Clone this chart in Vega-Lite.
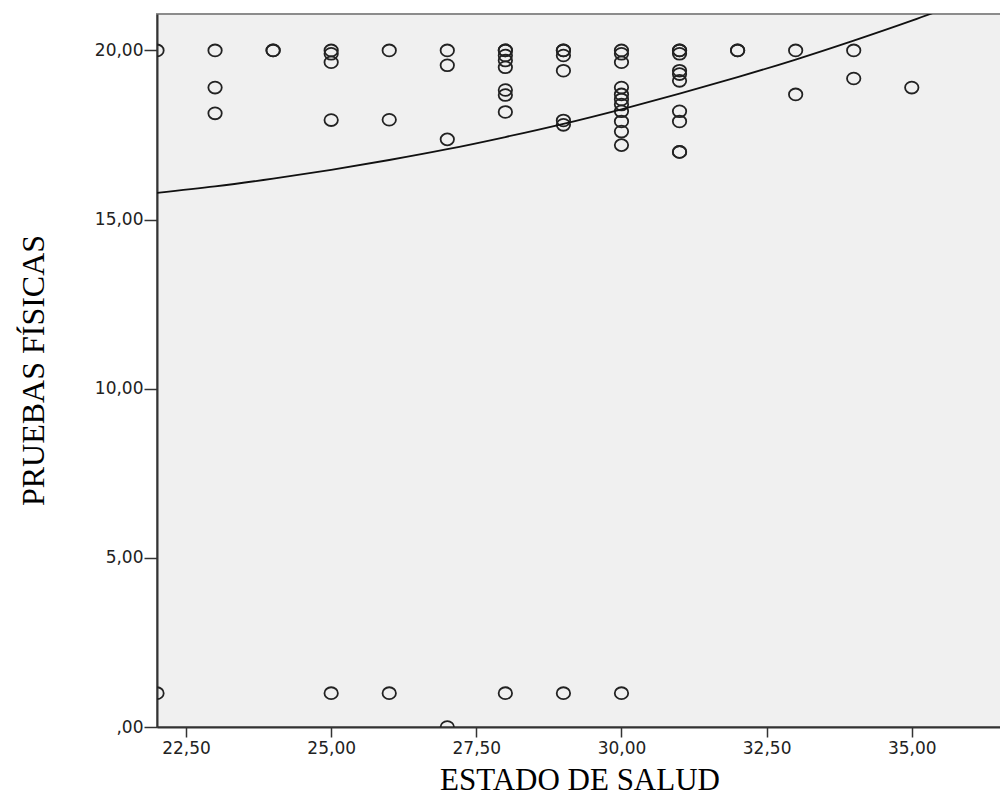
{
  "$schema": "https://vega.github.io/schema/vega-lite/v6.json",
  "width": 845,
  "height": 713,
  "autosize": {"type": "none"},
  "padding": {"left": 157, "top": 14, "right": 0, "bottom": 75},
  "background": "white",
  "config": {"view": {"fill": "#f0f0f0", "stroke": "#8c8c8c", "strokeWidth": 2}},
  "datasets": {
    "puntos": [
      {"estado": 22, "pruebas": 20}, {"estado": 22, "pruebas": 1},
      {"estado": 23, "pruebas": 20}, {"estado": 23, "pruebas": 18.9}, {"estado": 23, "pruebas": 18.14},
      {"estado": 24, "pruebas": 20}, {"estado": 24, "pruebas": 20},
      {"estado": 25, "pruebas": 20}, {"estado": 25, "pruebas": 19.9}, {"estado": 25, "pruebas": 19.65}, {"estado": 25, "pruebas": 17.94}, {"estado": 25, "pruebas": 1},
      {"estado": 26, "pruebas": 20}, {"estado": 26, "pruebas": 17.95}, {"estado": 26, "pruebas": 1},
      {"estado": 27, "pruebas": 20}, {"estado": 27, "pruebas": 19.56}, {"estado": 27, "pruebas": 17.37}, {"estado": 27, "pruebas": 0},
      {"estado": 28, "pruebas": 20}, {"estado": 28, "pruebas": 20}, {"estado": 28, "pruebas": 19.85}, {"estado": 28, "pruebas": 19.7}, {"estado": 28, "pruebas": 19.5}, {"estado": 28, "pruebas": 18.83}, {"estado": 28, "pruebas": 18.68}, {"estado": 28, "pruebas": 18.18}, {"estado": 28, "pruebas": 1},
      {"estado": 29, "pruebas": 20}, {"estado": 29, "pruebas": 20}, {"estado": 29, "pruebas": 19.85}, {"estado": 29, "pruebas": 19.4}, {"estado": 29, "pruebas": 17.93}, {"estado": 29, "pruebas": 17.8}, {"estado": 29, "pruebas": 1},
      {"estado": 30, "pruebas": 20}, {"estado": 30, "pruebas": 19.9}, {"estado": 30, "pruebas": 19.65}, {"estado": 30, "pruebas": 18.9}, {"estado": 30, "pruebas": 18.7}, {"estado": 30, "pruebas": 18.55}, {"estado": 30, "pruebas": 18.4}, {"estado": 30, "pruebas": 18.2}, {"estado": 30, "pruebas": 17.9}, {"estado": 30, "pruebas": 17.6}, {"estado": 30, "pruebas": 17.2}, {"estado": 30, "pruebas": 1},
      {"estado": 31, "pruebas": 20}, {"estado": 31, "pruebas": 20}, {"estado": 31, "pruebas": 19.9}, {"estado": 31, "pruebas": 19.4}, {"estado": 31, "pruebas": 19.3}, {"estado": 31, "pruebas": 19.1}, {"estado": 31, "pruebas": 18.2}, {"estado": 31, "pruebas": 17.9}, {"estado": 31, "pruebas": 17.0}, {"estado": 31, "pruebas": 17.0},
      {"estado": 32, "pruebas": 20}, {"estado": 32, "pruebas": 20},
      {"estado": 33, "pruebas": 20}, {"estado": 33, "pruebas": 18.7},
      {"estado": 34, "pruebas": 20}, {"estado": 34, "pruebas": 19.17},
      {"estado": 35, "pruebas": 18.9}
    ],
    "ajuste": [
      {"estado": 22, "pruebas": 15.79}, {"estado": 23, "pruebas": 15.98}, {"estado": 24, "pruebas": 16.21},
      {"estado": 25, "pruebas": 16.47}, {"estado": 26, "pruebas": 16.76}, {"estado": 27, "pruebas": 17.08},
      {"estado": 28, "pruebas": 17.44}, {"estado": 29, "pruebas": 17.83}, {"estado": 30, "pruebas": 18.26},
      {"estado": 31, "pruebas": 18.72}, {"estado": 32, "pruebas": 19.21}, {"estado": 33, "pruebas": 19.73},
      {"estado": 34, "pruebas": 20.29}, {"estado": 35, "pruebas": 20.88}, {"estado": 36, "pruebas": 21.51}
    ]
  },
  "layer": [
    {
      "data": {"name": "puntos"},
      "mark": {"type": "point", "shape": "M-1,0A1,0.88,0,1,1,1,0A1,0.88,0,1,1,-1,0Z", "filled": false, "stroke": "#222", "strokeWidth": 1.8, "size": 180, "opacity": 1, "clip": true},
      "encoding": {
        "x": {
          "field": "estado", "type": "quantitative",
          "scale": {"domain": [22, 36.554], "nice": false, "zero": false},
          "axis": {
            "values": [22.5, 25, 27.5, 30, 32.5, 35],
            "labelExpr": "replace(format(datum.value,'.2f'),'.',',')",
            "grid": false, "tickSize": 10, "tickColor": "#333", "tickWidth": 1.5,
            "domainColor": "#333", "domainWidth": 2,
            "labelFont": "DejaVu Sans", "labelFontSize": 17, "labelColor": "#222", "labelPadding": 3,
            "title": "ESTADO DE SALUD", "titleFont": "Liberation Serif", "titleFontSize": 31,
            "titleFontWeight": "normal", "titleColor": "black", "titleY": 62, "titleBaseline": "alphabetic"
          }
        },
        "y": {
          "field": "pruebas", "type": "quantitative",
          "scale": {"domain": [0, 21.076], "nice": false, "zero": false},
          "axis": {
            "values": [0, 5, 10, 15, 20],
            "labelExpr": "datum.value == 0 ? ',00' : replace(format(datum.value,'.2f'),'.',',')",
            "grid": false, "tickSize": 13, "tickColor": "#333", "tickWidth": 1.5,
            "domainColor": "#333", "domainWidth": 2,
            "labelFont": "DejaVu Sans", "labelFontSize": 17, "labelColor": "#222", "labelPadding": 1,
            "title": "PRUEBAS FÍSICAS", "titleFont": "Liberation Serif", "titleFontSize": 32,
            "titleFontWeight": "normal", "titleColor": "black", "titleX": -114, "titleY": 356,
            "titleAngle": -90, "titleBaseline": "alphabetic", "titleAlign": "center"
          }
        }
      }
    },
    {
      "data": {"name": "ajuste"},
      "mark": {"type": "line", "color": "#111", "strokeWidth": 1.8, "interpolate": "monotone", "clip": true},
      "encoding": {
        "x": {"field": "estado", "type": "quantitative", "scale": {"domain": [22, 36.554], "nice": false, "zero": false}},
        "y": {"field": "pruebas", "type": "quantitative", "scale": {"domain": [0, 21.076], "nice": false, "zero": false}}
      }
    }
  ]
}
